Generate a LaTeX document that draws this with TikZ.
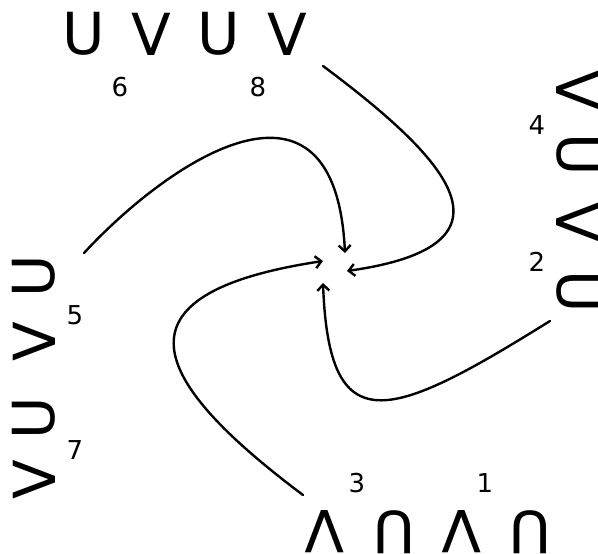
\documentclass[tikz,border=0pt]{standalone}
\usepackage{fontspec}
\setmainfont{DejaVu Sans}
\usetikzlibrary{arrows.meta}
\begin{document}
\begin{tikzpicture}[x=1pt,y=-1pt,
  glyph/.style={inner sep=0pt,font=\fontsize{58}{60}\selectfont},
  num/.style={inner sep=0pt,font=\fontsize{26}{28}\selectfont},
  link/.style={line width=2.4pt,-{Straight Barb[length=6pt,width=12pt]},line cap=round}]
\useasboundingbox (0,0) rectangle (598,554);
% top
\node[glyph] (t1) at (84,34) {U};
\node[glyph] (t2) at (151,34) {V};
\node[glyph] (t3) at (219,34) {U};
\node[glyph] (t4) at (287,34) {V};
% right
\node[glyph,rotate=-90] (r1) at (578,90) {V};
\node[glyph,rotate=-90] (r2) at (578,155) {U};
\node[glyph,rotate=-90] (r3) at (578,222) {V};
\node[glyph,rotate=-90] (r4) at (578,292) {U};
% bottom
\node[glyph,rotate=180] (b1) at (325,532) {V};
\node[glyph,rotate=180] (b2) at (394,532) {U};
\node[glyph,rotate=180] (b3) at (462,532) {V};
\node[glyph,rotate=180] (b4) at (530,532) {U};
% left
\node[glyph,rotate=90] (l1) at (34,276) {U};
\node[glyph,rotate=90] (l2) at (34,342) {V};
\node[glyph,rotate=90] (l3) at (34,418) {U};
\node[glyph,rotate=90] (l4) at (34,480) {V};
% numbers
\node[num] (n6) at (120,87) {6};
\node[num] (n8) at (258,87) {8};
\node[num] (n4) at (537,125) {4};
\node[num] (n2) at (537,262) {2};
\node[num] (n3) at (357,483) {3};
\node[num] (n1) at (485,483) {1};
\node[num] (n5) at (75,315) {5};
\node[num] (n7) at (75,450) {7};
% connector ends
\coordinate (sA) at (84,253);  \coordinate (eA) at (345,253);
\coordinate (sB) at (323,66);  \coordinate (eB) at (347,271);
\coordinate (sC) at (303,495); \coordinate (eC) at (323,261);
\coordinate (sD) at (550,321); \coordinate (eD) at (323,283);
\draw[link] (sA) .. controls (170,160) and (335,50) .. (eA);
\draw[link] (sB) .. controls (445,157) and (530,245) .. (eB);
\draw[link] (sC) .. controls (151,381) and (105,294) .. (eC);
\draw[link] (sD) .. controls (388,422) and (329,443) .. (eD);
\end{tikzpicture}
\end{document}
